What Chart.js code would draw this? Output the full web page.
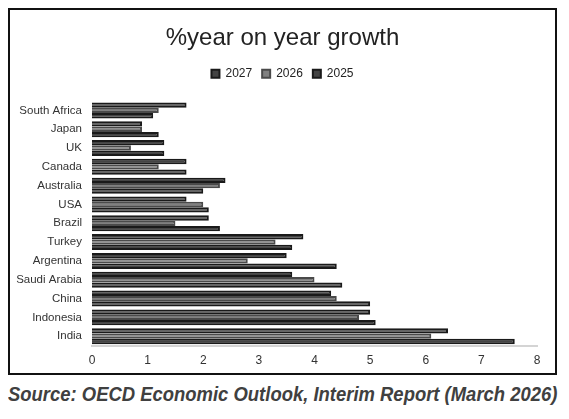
<!DOCTYPE html>
<html>
<head>
<meta charset="utf-8">
<script src="https://cdn.jsdelivr.net/npm/chart.js@4/dist/chart.umd.min.js"></script>
<style>
  body { margin: 0; background: #fff; width: 569px; height: 419px; position: relative; overflow: hidden; }
  #box { position: absolute; left: 8px; top: 8px; width: 545px; height: 363px; border: 2px solid #111; }
  #source { position: absolute; left: 8px; top: 382px; font-family: "Liberation Sans", Arial, sans-serif;
    font-weight: bold; font-style: italic; font-size: 21px; color: #404040; white-space: nowrap; transform-origin: 0 0; }
</style>
</head>
<body>
<div id="box"><canvas id="growthChart" width="545" height="363"></canvas></div>
<div id="source">Source: OECD Economic Outlook, Interim Report (March 2026)</div>
<script>
// values
const countries = ['South Africa', 'Japan', 'UK', 'Canada', 'Australia', 'USA', 'Brazil',
  'Turkey', 'Argentina', 'Saudi Arabia', 'China', 'Indonesia', 'India'];
const growth2027 = [1.7, 0.9, 1.3, 1.7, 2.4, 1.7, 2.1, 3.8, 3.5, 3.6, 4.3, 5.0, 6.4];
const growth2026 = [1.2, 0.9, 0.7, 1.2, 2.3, 2.0, 1.5, 3.3, 2.8, 4.0, 4.4, 4.8, 6.1];
const growth2025 = [1.1, 1.2, 1.3, 1.7, 2.0, 2.1, 2.3, 3.6, 4.4, 4.5, 5.0, 5.1, 7.6];
const xTicks = [0, 1, 2, 3, 4, 5, 6, 7, 8];

// squeeze the source line to the width of the box (narrow font look)
const src = document.getElementById('source');
src.style.transform = 'scaleX(' + (549 / src.offsetWidth) + ')';

Chart.defaults.font.family = '"Liberation Sans", Arial, sans-serif';
Chart.defaults.color = '#222';

const growthChart = new Chart(
  document.getElementById('growthChart'),
  {
    type: 'bar',
    data: {
      labels: countries,
      datasets: [
        { label: '2027', data: growth2027, backgroundColor: '#444444', borderColor: '#1a1a1a', borderWidth: 2 },
        { label: '2026', data: growth2026, backgroundColor: '#808080', borderColor: '#4a4a4a', borderWidth: 2 },
        { label: '2025', data: growth2025, backgroundColor: '#444444', borderColor: '#1a1a1a', borderWidth: 2 }
      ]
    },
    options: {
      indexAxis: 'y',
      responsive: false,
      devicePixelRatio: 1,
      animation: false,
      categoryPercentage: 0.85,
      barPercentage: 1.0,
      layout: { padding: { left: 0, right: 0, top: 0, bottom: 5 } },
      plugins: {
        title: {
          display: true,
          text: '%year on year growth',
          font: { size: 24, weight: 'normal' },
          color: '#222',
          padding: { top: 14, bottom: 5 }
        },
        // empty spacer between legend and plot
        subtitle: {
          display: true,
          text: ' ',
          weight: 500,
          font: { size: 1 },
          padding: { top: 10, bottom: 0 }
        },
        legend: {
          labels: { boxWidth: 8, boxHeight: 8, padding: 10, font: { size: 12 }, color: '#222' }
        },
        tooltip: { enabled: false }
      },
      scales: {
        x: {
          min: xTicks[0],
          max: xTicks[xTicks.length - 1],
          ticks: { stepSize: 1, font: { size: 12 }, color: '#333', padding: 0 },
          grid: { display: false },
          border: { display: true, color: '#d4d4d4', width: 2 },
          afterFit: scale => { scale.paddingRight = 18; }
        },
        y: {
          ticks: { font: { size: 11.5 }, color: '#333', padding: 10 },
          grid: { display: false, drawTicks: false },
          border: { display: false },
          afterFit: scale => { scale.width = 82; }
        }
      }
    }
  }
);
</script>
</body>
</html>
